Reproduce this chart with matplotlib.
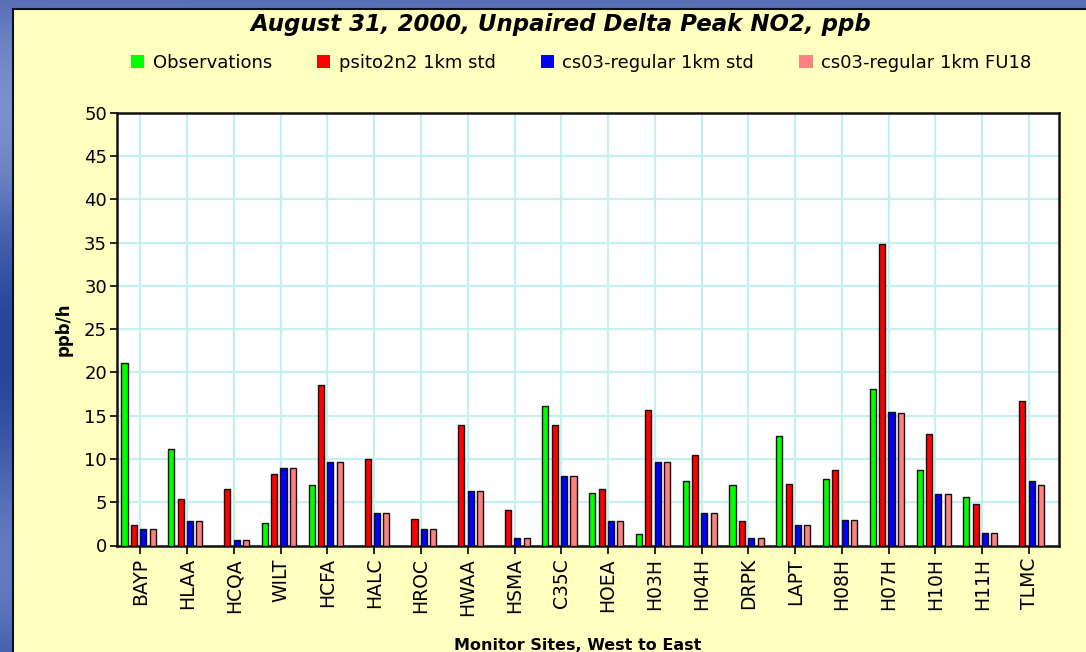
import numpy as np
import matplotlib
matplotlib.use("Agg")
import matplotlib.pyplot as plt
from matplotlib.patches import Rectangle, Patch

plt.rcParams['font.family'] = ['DejaVu Sans']

sites = ['BAYP', 'HLAA', 'HCQA', 'WILT', 'HCFA', 'HALC', 'HROC', 'HWAA', 'HSMA', 'C35C',
         'HOEA', 'H03H', 'H04H', 'DRPK', 'LAPT', 'H08H', 'H07H', 'H10H', 'H11H', 'TLMC']
observations = [21.1, 11.1, np.nan, 2.65, 7.0, np.nan, np.nan, np.nan, np.nan, 16.1,
                6.1, 1.35, 7.45, 7.0, 12.6, 7.65, 18.05, 8.7, 5.65, np.nan]
psito2n2_std = [2.4, 5.4, 6.5, 8.3, 18.55, 10.05, 3.1, 13.95, 4.1, 13.95,
                6.55, 15.65, 10.45, 2.85, 7.1, 8.7, 34.8, 12.9, 4.8, 16.75]
cs03_std = [1.9, 2.85, 0.65, 9.0, 9.6, 3.75, 1.9, 6.3, 0.9, 8.05,
            2.85, 9.6, 3.75, 0.85, 2.4, 3.0, 15.45, 5.9, 1.5, 7.45]
cs03_fu18 = [1.9, 2.85, 0.65, 9.0, 9.6, 3.75, 1.9, 6.3, 0.9, 8.05,
             2.85, 9.6, 3.75, 0.85, 2.4, 3.0, 15.25, 5.9, 1.5, 7.0]

series_names = ['Observations', 'psito2n2 1km std', 'cs03-regular 1km std', 'cs03-regular 1km FU18']
series_colors = ['#00ff00', '#ff0000', '#0000ff', '#ff8080']
all_series = [observations, psito2n2_std, cs03_std, cs03_fu18]

W, H = 1086, 652
fig = plt.figure(figsize=(W / 100, H / 100), dpi=100)

# slide background: blue gradient
bg = fig.add_axes([0, 0, 1, 1], zorder=-10)
yy, xx = np.mgrid[0:1:200j, 0:1:300j]
grad = 0.5 + 0.25 * np.sin(yy * 9) * (1 - xx) + 0.2 * (1 - yy)
bg.imshow(grad, cmap=matplotlib.colors.LinearSegmentedColormap.from_list(
    'slide', ['#27449a', '#4a66b0', '#7d8fca']), aspect='auto', extent=[0, 1, 0, 1])
bg.axis('off')

# yellow chart panel
fig.add_artist(Rectangle((13 / W, -0.01), 1.0, 1 - 9 / H + 0.01, transform=fig.transFigure,
                         facecolor='#ffffc0', edgecolor='#101010', linewidth=1.5, zorder=-5))

ax = fig.add_axes([116.7 / W, 1 - 545.5 / H, (1058.7 - 116.7) / W, (545.5 - 112.7) / H])
ax.set_facecolor('white')

x = np.arange(len(sites))
bar_w = 0.13
offsets = np.array([-0.34, -0.14, 0.06, 0.26])
for vals, off, col in zip(all_series, offsets, series_colors):
    ax.bar(x + off, vals, width=bar_w, color=col, edgecolor='#111111', linewidth=1.0, zorder=3)

ax.set_xlim(-0.507, len(sites) - 1 + 0.635)
ax.set_ylim(0, 50)
ax.set_yticks(np.arange(0, 51, 5))
ax.set_xticks(x)
ax.set_xticklabels(sites, rotation=90, fontsize=13.5)
ax.tick_params(axis='y', labelsize=13, direction='out', length=5, width=1.2, pad=2)
ax.tick_params(axis='x', direction='out', length=6, width=1.2, pad=3)
ax.grid(True, color='#c4f0f0', linewidth=1.6, zorder=0)
ax.set_axisbelow(True)
for s in ax.spines.values():
    s.set_linewidth(1.8)
    s.set_color('#111111')

ax.set_ylabel('ppb/h', fontsize=12, fontweight='bold', labelpad=8)
fig.text(0.532, 1 - 645 / H, 'Monitor Sites, West to East', ha='center', va='center',
         fontsize=11.5, fontweight='bold')

fig.text(0.516, 1 - 25 / H, 'August 31, 2000, Unpaired Delta Peak NO2, ppb', ha='center',
         va='center', fontsize=16.5, fontweight='bold', fontstyle='italic')

handles = [Patch(facecolor=c, edgecolor='none') for c in series_colors]
fig.legend(handles, series_names, loc='center', bbox_to_anchor=(581 / W, 1 - 63 / H), ncol=4,
           frameon=False, fontsize=13, handlelength=0.75, handleheight=0.75,
           handletextpad=0.45, columnspacing=2.5)

fig.savefig('out.png', dpi=100)
